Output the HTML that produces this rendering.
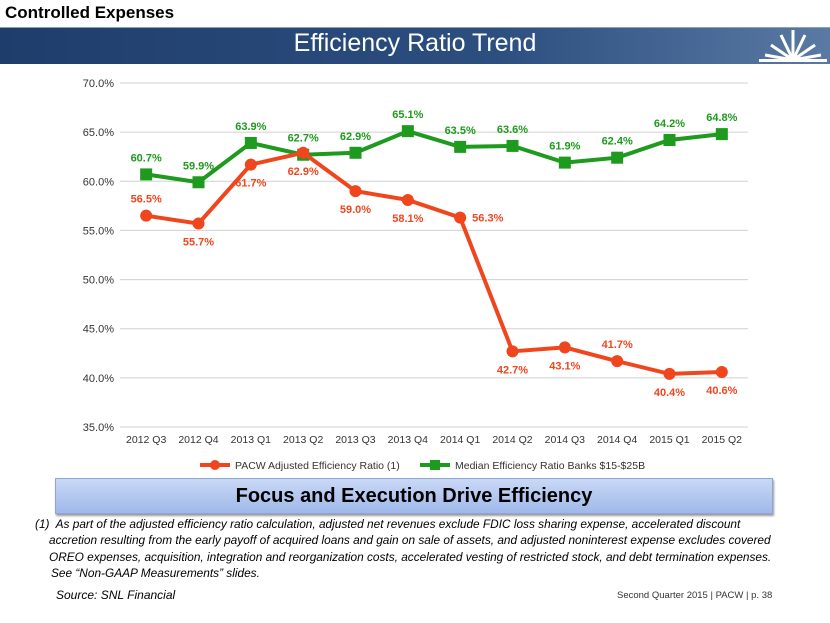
<!DOCTYPE html>
<html><head><meta charset="utf-8"><style>
body{margin:0;width:830px;height:623px;background:#fff;font-family:"Liberation Sans",sans-serif;position:relative;overflow:hidden}
.abs{position:absolute}
</style></head><body>
<div class="abs" style="left:5px;top:3px;font-size:17px;font-weight:bold;color:#000">Controlled Expenses</div>
<div class="abs" style="left:0;top:27px;width:830px;height:36px;background:linear-gradient(90deg,#1f3d6b,#2c4f80 60%,#5a7aa3);border-top:1px solid #8aa0c0"></div>
<div class="abs" style="left:0;top:29px;width:830px;text-align:center;font-size:25px;color:#fff">Efficiency Ratio Trend</div>
<svg class="abs" style="left:755px;top:27px" width="75" height="36"><g stroke="#fff" stroke-width="3"><line x1="38" y1="33" x2="38" y2="3"/><line x1="38" y1="33" x2="26" y2="8"/><line x1="38" y1="33" x2="50" y2="8"/><line x1="38" y1="33" x2="16" y2="18"/><line x1="38" y1="33" x2="60" y2="18"/><line x1="38" y1="33" x2="10" y2="28"/><line x1="38" y1="33" x2="66" y2="28"/></g><rect x="4" y="32" width="68" height="3" fill="#fff"/></svg>
<svg id="chart" class="abs" style="left:0;top:0" width="830" height="480" font-family="Liberation Sans, sans-serif"></svg>
<div class="abs" style="left:55px;top:478px;width:716px;height:34px;background:linear-gradient(#c9d8f5,#9fb9ea);border:1px solid #8ea6d6;box-shadow:1px 2px 2px #999;text-align:center;line-height:34px;font-size:20px;font-weight:bold;color:#000">Focus and Execution Drive Efficiency</div>
<div class="abs" style="left:35px;top:516px;width:790px;font-size:11.85px;font-style:italic;line-height:16.3px;color:#000;white-space:nowrap">(1)&nbsp; As part of the adjusted efficiency ratio calculation, adjusted net revenues exclude FDIC loss sharing expense, accelerated discount<br><span style="padding-left:14px">accretion resulting from the early payoff of acquired loans and gain on sale of assets, and adjusted noninterest expense excludes covered</span><br><span style="padding-left:14px">OREO expenses, acquisition, integration and reorganization costs, accelerated vesting of restricted stock, and debt termination expenses.</span><br><span style="padding-left:16px">See “Non-GAAP Measurements” slides.</span></div>
<div class="abs" style="left:56px;top:588px;font-size:12px;font-style:italic">Source: SNL Financial</div>
<div class="abs" style="left:617px;top:590px;font-size:9.5px;color:#333">Second Quarter 2015 | PACW | p. 38</div>
<script>
const categories=["2012 Q3","2012 Q4","2013 Q1","2013 Q2","2013 Q3","2013 Q4","2014 Q1","2014 Q2","2014 Q3","2014 Q4","2015 Q1","2015 Q2"];
const pacwValues=[56.5,55.7,61.7,62.9,59.0,58.1,56.3,42.7,43.1,41.7,40.4,40.6];
const medianValues=[60.7,59.9,63.9,62.7,62.9,65.1,63.5,63.6,61.9,62.4,64.2,64.8];
const yTicks=[35,40,45,50,55,60,65,70];
const pacwLabelPos=["above","below","below","below","below","below","right","below","below","above","below","below"];
const svg=document.getElementById('chart');
const NS='http://www.w3.org/2000/svg';
const x0=120,x1=748,yTop=83,yBot=427,yMin=35,yMax=70;
const step=(x1-x0)/categories.length;
const xs=i=>x0+step*(i+0.5);
const ys=v=>yBot-(v-yMin)/(yMax-yMin)*(yBot-yTop);
function el(t,a,p){const e=document.createElementNS(NS,t);for(const k in a)e.setAttribute(k,a[k]);(p||svg).appendChild(e);return e;}
yTicks.forEach(t=>{
 const g=el('line',{x1:x0,x2:x1,y1:ys(t),y2:ys(t),stroke:'#d0d0d0','stroke-width':1});
 
 
 const l=el('text',{x:x0-6,y:ys(t)+4,'text-anchor':'end','font-size':11,fill:'#333'});l.textContent=t.toFixed(1)+'%';
 
 
});
categories.forEach((c,i)=>{
 const l=el('text',{x:xs(i),y:yBot+16,'text-anchor':'middle','font-size':10.5,fill:'#333'});l.textContent=c;
 
 
});
function series(vals,color,name,marker){
 const p=el('polyline',{points:vals.map((v,i)=>xs(i)+','+ys(v)).join(' '),fill:'none',stroke:color,'stroke-width':4});
 
 
 vals.forEach((v,i)=>{
  let m;
  if(marker==='square')m=el('rect',{x:xs(i)-6,y:ys(v)-6,width:12,height:12,fill:color});
  else m=el('circle',{cx:xs(i),cy:ys(v),r:6,fill:color});
  
  
 });
}
series(medianValues,'#1e9a1e','median','square');
series(pacwValues,'#f0461e','pacw','circle');
medianValues.forEach((v,i)=>{
 const t=el('text',{x:xs(i),y:ys(v)-13,'text-anchor':'middle','font-size':11,'font-weight':'bold',fill:'#1e9a1e'});t.textContent=v.toFixed(1)+'%';
 
 
});
pacwValues.forEach((v,i)=>{
 const pos=pacwLabelPos[i];let x=xs(i),y=ys(v)+22,a='middle';
 if(pos==='above')y=ys(v)-13;
 if(pos==='right'){x=xs(i)+12;y=ys(v)+4;a='start';}
 const t=el('text',{x:x,y:y,'text-anchor':a,'font-size':11,'font-weight':'bold',fill:'#f0461e'});t.textContent=v.toFixed(1)+'%';
 
 
});
const lg=[[200,'#f0461e','circle','PACW Adjusted Efficiency Ratio (1)'],[420,'#1e9a1e','square','Median Efficiency Ratio Banks $15-$25B']];
lg.forEach(([lx,c,m,txt])=>{
 const ln=el('line',{x1:lx,x2:lx+30,y1:465,y2:465,stroke:c,'stroke-width':4});
 
 
 if(m==='circle')el('circle',{cx:lx+15,cy:465,r:5,fill:c});else el('rect',{x:lx+10,y:460,width:10,height:10,fill:c});
 const t=el('text',{x:lx+35,y:469,'font-size':10.5,fill:'#333'});t.textContent=txt;
 
 
});
</script>
</body></html>
